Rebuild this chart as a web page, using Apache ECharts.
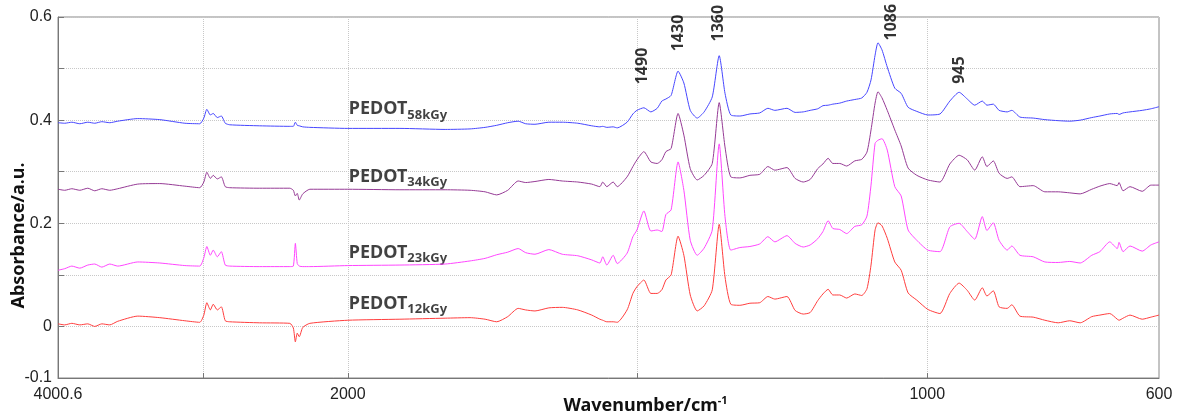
<!DOCTYPE html>
<html>
<head>
<meta charset="utf-8">
<script src="https://cdn.jsdelivr.net/npm/echarts@6/dist/echarts.min.js"></script>
<style>
  html, body { margin: 0; padding: 0; background: #fff; }
  #main { width: 1179px; height: 416px; }
</style>
</head>
<body>
<div id="main"></div>
<script>
// wavenumbers (cm-1) shared by all four spectra
var wavenumbers = [4000,3954,3905,3850,3795,3747,3698,3643,3588,3450,
  3298,3125,3022,2994,2973,2949,2929,2901,2873,2846,
  2815,2608,2400,2376,2362,2349,2335,2311,2262,2000,
  1910,1832,1789,1763,1743,1724,1706,1693,1677,1653,
  1630,1603,1579,1565,1560,1553,1542,1535,1518,1508,
  1501,1489,1477,1466,1458,1451,1442,1430,1420,1409,
  1397,1385,1371,1359,1349,1339,1323,1306,1289,1275,
  1263,1242,1228,1214,1202,1189,1180,1171,1163,1151,
  1139,1125,1113,1104,1097,1090,1085,1078,1069,1056,
  1045,1033,1018,999,978,961,945,931,918,905,
  897,886,876,862,854,840,817,797,774,754,
  736,716,702,685,672,669,662,650,629,614,600];

var pedot58 = [0.395,0.394,0.396,0.393,0.396,0.394,0.397,0.395,0.398,0.403,
  0.401,0.394,0.393,0.404,0.421,0.410,0.413,0.405,0.408,0.394,
  0.391,0.389,0.388,0.388,0.396,0.390,0.389,0.387,0.386,0.384,
  0.384,0.382,0.383,0.386,0.390,0.395,0.398,0.393,0.392,0.396,
  0.396,0.394,0.389,0.387,0.388,0.386,0.387,0.385,0.396,0.412,
  0.419,0.424,0.416,0.423,0.437,0.441,0.448,0.495,0.472,0.419,
  0.404,0.416,0.445,0.525,0.452,0.410,0.408,0.412,0.414,0.423,
  0.419,0.423,0.415,0.416,0.419,0.422,0.428,0.429,0.431,0.433,
  0.437,0.440,0.443,0.454,0.478,0.526,0.550,0.536,0.503,0.462,
  0.452,0.425,0.417,0.410,0.412,0.437,0.454,0.441,0.429,0.437,
  0.429,0.431,0.419,0.416,0.419,0.406,0.404,0.401,0.399,0.398,
  0.400,0.405,0.408,0.412,0.413,0.411,0.414,0.416,0.419,0.422,0.426];

var pedot34 = [0.266,0.264,0.267,0.264,0.268,0.263,0.267,0.264,0.267,0.276,
  0.277,0.272,0.269,0.280,0.299,0.287,0.293,0.286,0.290,0.271,
  0.269,0.268,0.268,0.264,0.253,0.258,0.245,0.257,0.266,0.266,
  0.265,0.265,0.264,0.261,0.255,0.264,0.282,0.279,0.281,0.285,
  0.282,0.280,0.276,0.271,0.280,0.271,0.280,0.271,0.290,0.310,
  0.323,0.339,0.319,0.316,0.323,0.339,0.345,0.413,0.371,0.306,
  0.284,0.293,0.316,0.434,0.348,0.290,0.288,0.293,0.295,0.310,
  0.303,0.308,0.287,0.280,0.285,0.306,0.315,0.326,0.316,0.316,
  0.311,0.321,0.324,0.338,0.381,0.433,0.455,0.443,0.419,0.381,
  0.350,0.307,0.293,0.284,0.280,0.315,0.332,0.323,0.303,0.329,
  0.310,0.321,0.297,0.287,0.290,0.271,0.273,0.261,0.261,0.259,
  0.257,0.266,0.272,0.277,0.273,0.279,0.263,0.271,0.262,0.274,0.274];

var pedot23 = [0.109,0.112,0.117,0.113,0.119,0.121,0.115,0.121,0.117,0.125,
  0.123,0.118,0.117,0.133,0.155,0.138,0.148,0.135,0.145,0.119,
  0.117,0.116,0.116,0.117,0.161,0.122,0.117,0.116,0.116,0.118,
  0.119,0.121,0.127,0.132,0.139,0.144,0.151,0.143,0.140,0.149,
  0.140,0.137,0.129,0.123,0.135,0.119,0.138,0.122,0.142,0.174,
  0.187,0.224,0.185,0.187,0.184,0.217,0.226,0.319,0.264,0.167,
  0.138,0.152,0.187,0.354,0.213,0.148,0.153,0.155,0.160,0.174,
  0.164,0.176,0.161,0.154,0.158,0.170,0.184,0.205,0.190,0.188,
  0.180,0.194,0.197,0.214,0.274,0.355,0.361,0.364,0.342,0.271,
  0.253,0.187,0.167,0.148,0.145,0.193,0.200,0.184,0.169,0.213,
  0.186,0.201,0.167,0.148,0.156,0.138,0.135,0.125,0.124,0.126,
  0.123,0.138,0.145,0.164,0.151,0.163,0.145,0.156,0.146,0.158,0.164];

var pedot12 = [0.005,0.003,0.006,0.003,0.005,0.000,0.005,0.003,0.010,0.020,
  0.017,0.011,0.008,0.022,0.046,0.032,0.043,0.032,0.038,0.011,
  0.009,0.007,0.006,-0.003,-0.030,-0.013,-0.020,-0.002,0.006,0.012,
  0.014,0.016,0.017,0.014,0.009,0.019,0.035,0.032,0.030,0.036,
  0.037,0.032,0.022,0.014,0.012,0.009,0.009,0.008,0.032,0.064,
  0.077,0.090,0.064,0.064,0.071,0.090,0.100,0.175,0.138,0.061,
  0.030,0.040,0.071,0.198,0.096,0.043,0.041,0.045,0.046,0.058,
  0.053,0.058,0.031,0.024,0.027,0.050,0.063,0.072,0.061,0.061,
  0.055,0.063,0.060,0.073,0.119,0.187,0.201,0.195,0.171,0.125,
  0.109,0.065,0.051,0.033,0.025,0.064,0.084,0.070,0.051,0.075,
  0.059,0.069,0.038,0.035,0.042,0.020,0.018,0.012,0.007,0.011,
  0.007,0.019,0.022,0.025,0.014,0.012,0.016,0.022,0.014,0.018,0.022];

var doses = ['58kGy', '34kGy', '23kGy', '12kGy'];
var doseLabelAbs = [0.421, 0.290, 0.143, 0.043];
var colors = ['#4646ff', '#953a95', '#ff45ff', '#ff3d3d'];

var peakNames = ['1490', '1430', '1360', '1086', '945'];
var peakLabelWn = [1492, 1430, 1360, 1061, 945];
var peakLabelAbs = [0.505, 0.569, 0.588, 0.590, 0.497];

var xTickWn = [4000.6, 2000, 1000, 600];
var xGridWn = [3000, 2000, 1500, 1000];
var yTicks = [-0.1, 0, 0.1, 0.2, 0.3, 0.4, 0.5, 0.6];
var yTickLabels = [-0.1, 0, 0.2, 0.4, 0.6];

// the x axis is expanded 4x below 2000 cm-1
function toAxis(w) {
  return w > 2000 ? 2000 + (w - 2000) / 4 : w;
}
function fromAxis(u) {
  return u > 2000 ? 2000 + (u - 2000) * 4 : u;
}

var spectra = [pedot58, pedot34, pedot23, pedot12];
var series = [];
for (var s = 0; s < spectra.length; s++) {
  var pts = [];
  for (var i = 0; i < wavenumbers.length; i++) {
    pts.push([toAxis(wavenumbers[i]), spectra[s][i]]);
  }
  series.push({
    type: 'line',
    data: pts,
    showSymbol: false,
    smooth: 0.2,
    lineStyle: { color: colors[s], width: 1 },
    z: 3
  });
}

var nameData = [];
for (var k = 0; k < doses.length; k++) {
  nameData.push({ value: [2000, doseLabelAbs[k]], sub: doses[k] });
}
series.push({
  type: 'scatter',
  symbolSize: 0,
  data: nameData,
  silent: true,
  label: {
    show: true,
    position: 'right',
    distance: 1,
    formatter: function (p) { return '{a|PEDOT}{b|' + p.data.sub + '}'; },
    rich: {
      a: { fontFamily: 'Noto Sans', fontWeight: 'bold', fontSize: 18, color: '#111', lineHeight: 24, verticalAlign: 'middle' },
      b: { fontFamily: 'Noto Sans', fontWeight: 'bold', fontSize: 13, color: '#111', lineHeight: 13, verticalAlign: 'bottom' }
    }
  }
});

var peakData = [];
for (var m = 0; m < peakNames.length; m++) {
  peakData.push({ value: [toAxis(peakLabelWn[m]), peakLabelAbs[m]], name: peakNames[m] });
}
series.push({
  type: 'scatter',
  symbolSize: 0,
  data: peakData,
  silent: true,
  label: {
    show: true,
    position: 'inside',
    rotate: 90,
    formatter: '{b}',
    fontFamily: 'Noto Sans',
    fontWeight: 'bold',
    fontSize: 16,
    color: '#000'
  }
});

var myChart = echarts.init(document.getElementById('main'));
var option = {
  animation: false,
  grid: {
    left: 58, right: 20, top: 17, bottom: 38,
    outerBoundsMode: 'none',
    containLabel: false,
    show: true, borderColor: '#888', borderWidth: 1
  },
  xAxis: {
    type: 'value',
    inverse: true,
    min: 600,
    max: toAxis(4000.6),
    name: '{n|Wavenumber/cm}{s|-1}',
    nameLocation: 'middle',
    nameGap: 17,
    nameMoveOverlap: false,
    nameTextStyle: {
      padding: [0, 0, 0, 74],
      rich: {
        n: { fontFamily: 'Noto Sans', fontWeight: 'bold', fontSize: 18, color: '#111', lineHeight: 22, verticalAlign: 'middle' },
        s: { fontFamily: 'Noto Sans', fontWeight: 'bold', fontSize: 11, color: '#111', lineHeight: 11, verticalAlign: 'top' }
      }
    },
    axisLine: { onZero: false, lineStyle: { color: '#777' } },
    axisTick: { inside: true, length: 5, customValues: xGridWn.map(toAxis), lineStyle: { color: '#777' } },
    axisLabel: {
      customValues: xTickWn.map(toAxis),
      margin: 9,
      fontFamily: 'Liberation Sans',
      fontSize: 16,
      color: '#222',
      formatter: function (v) {
        var w = fromAxis(v);
        return Math.abs(w - Math.round(w)) > 0.01 ? w.toFixed(1) : String(Math.round(w));
      }
    },
    splitLine: { show: true, lineStyle: { color: '#c8c8c8', type: 'dotted' } }
  },
  yAxis: {
    type: 'value',
    min: -0.1,
    max: 0.6,
    interval: 0.1,
    name: 'Absorbance/a.u.',
    nameLocation: 'middle',
    nameGap: 30,
    nameMoveOverlap: false,
    nameTextStyle: {
      fontFamily: 'Noto Sans', fontWeight: 'bold', fontSize: 18, color: '#111',
      padding: [0, 76, 0, 0]
    },
    axisLine: { show: true, onZero: false, lineStyle: { color: '#777' } },
    axisTick: { show: true, inside: true, length: 6, customValues: yTicks, lineStyle: { color: '#777' } },
    axisLabel: {
      customValues: yTickLabels,
      margin: 6,
      fontFamily: 'Liberation Sans',
      fontSize: 16,
      color: '#222',
      formatter: function (v) {
        var r = Math.round(v * 10) / 10;
        return r === 0 ? '0' : r.toFixed(1);
      }
    },
    splitLine: { show: true, lineStyle: { color: '#c8c8c8', type: 'dotted' } }
  },
  series: series
};
myChart.setOption(option);
</script>
</body>
</html>
